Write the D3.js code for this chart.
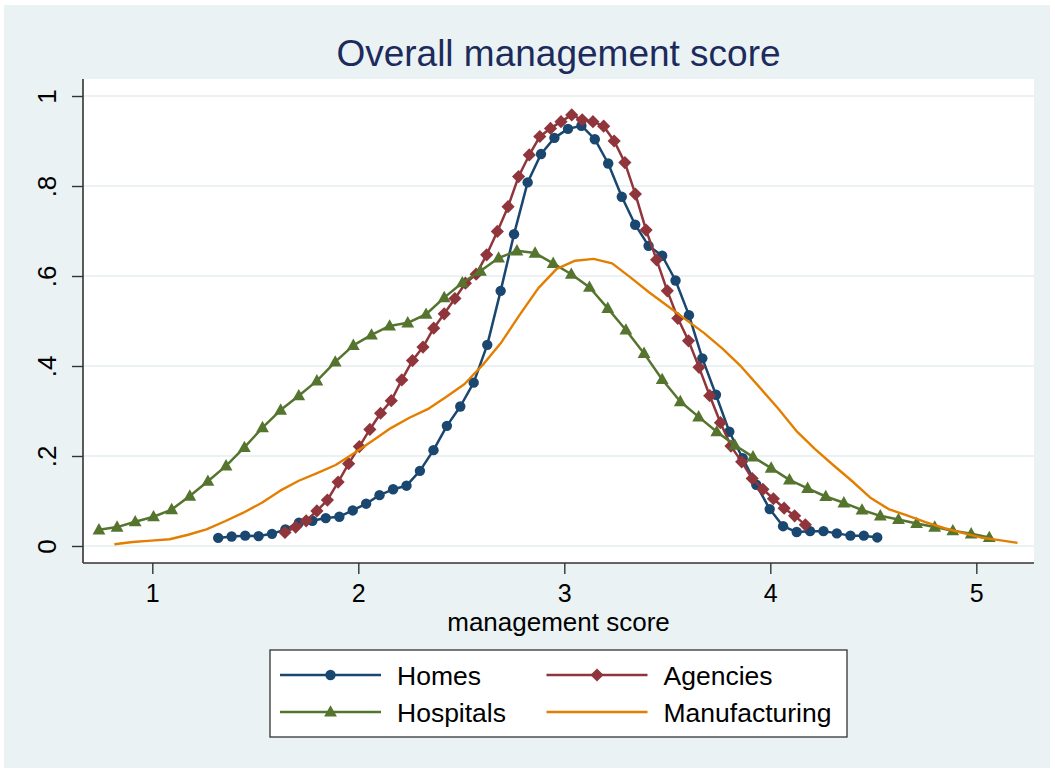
<!DOCTYPE html>
<html>
<head>
<meta charset="utf-8">
<script src="https://cdn.jsdelivr.net/npm/d3@7/dist/d3.min.js"></script>
<style>
  body { margin: 0; background: #fff; }
  svg text { font-family: "Liberation Sans", Arial, sans-serif; }
</style>
</head>
<body>
<div id="chart"></div>
<script>
// kdensity curves (50 points each)
const homesX = [1.320,1.385,1.451,1.516,1.581,1.646,1.712,1.777,1.842,1.908,
  1.973,2.038,2.103,2.169,2.234,2.299,2.365,2.430,2.495,2.560,
  2.626,2.691,2.756,2.822,2.887,2.952,3.018,3.083,3.148,3.213,
  3.279,3.344,3.409,3.475,3.540,3.605,3.670,3.736,3.801,3.866,
  3.932,3.997,4.062,4.128,4.193,4.258,4.323,4.389,4.454,4.519];
const homesY = [0.018,0.021,0.023,0.022,0.027,0.037,0.052,0.056,0.062,0.065,
  0.079,0.094,0.113,0.126,0.134,0.167,0.213,0.267,0.310,0.363,
  0.447,0.567,0.693,0.808,0.871,0.907,0.927,0.934,0.904,0.850,
  0.776,0.714,0.667,0.645,0.590,0.513,0.417,0.336,0.254,0.195,
  0.136,0.082,0.044,0.031,0.033,0.033,0.028,0.023,0.023,0.019];

const agenciesX = [1.644,1.696,1.747,1.799,1.850,1.902,1.953,2.005,2.056,2.108,
  2.160,2.211,2.263,2.314,2.366,2.417,2.469,2.520,2.572,2.623,
  2.675,2.727,2.778,2.830,2.881,2.933,2.984,3.036,3.087,3.139,
  3.191,3.242,3.294,3.345,3.397,3.448,3.500,3.551,3.603,3.654,
  3.706,3.758,3.809,3.861,3.912,3.964,4.015,4.067,4.118,4.170];
const agenciesY = [0.030,0.042,0.056,0.078,0.102,0.142,0.183,0.221,0.259,0.295,
  0.323,0.369,0.412,0.442,0.484,0.516,0.550,0.584,0.604,0.647,
  0.699,0.754,0.821,0.869,0.910,0.928,0.943,0.958,0.947,0.943,
  0.933,0.900,0.852,0.782,0.702,0.636,0.567,0.506,0.456,0.397,
  0.334,0.274,0.222,0.187,0.150,0.126,0.105,0.084,0.067,0.047];

const hospitalsX = [0.741,0.829,0.917,1.006,1.094,1.182,1.270,1.358,1.447,1.535,
  1.623,1.711,1.799,1.888,1.976,2.064,2.152,2.240,2.329,2.417,
  2.505,2.593,2.681,2.770,2.858,2.946,3.034,3.122,3.211,3.299,
  3.387,3.475,3.563,3.652,3.740,3.828,3.916,4.004,4.093,4.181,
  4.269,4.357,4.445,4.534,4.622,4.710,4.798,4.886,4.975,5.063];
const hospitalsY = [0.036,0.042,0.054,0.065,0.081,0.111,0.144,0.178,0.219,0.263,
  0.302,0.334,0.367,0.409,0.446,0.469,0.489,0.496,0.515,0.552,
  0.585,0.611,0.640,0.656,0.651,0.628,0.604,0.575,0.528,0.480,
  0.428,0.370,0.321,0.287,0.254,0.224,0.198,0.173,0.147,0.128,
  0.110,0.096,0.080,0.067,0.059,0.050,0.042,0.034,0.027,0.019];

const manufX = [0.816,0.905,0.995,1.084,1.174,1.263,1.353,1.442,1.532,1.621,
  1.711,1.800,1.890,1.979,2.069,2.158,2.248,2.337,2.426,2.516,
  2.605,2.695,2.784,2.874,2.963,3.053,3.142,3.232,3.321,3.411,
  3.500,3.590,3.679,3.769,3.858,3.947,4.037,4.126,4.216,4.305,
  4.395,4.484,4.574,4.663,4.753,4.842,4.932,5.021,5.111,5.200];
const manufY = [0.004,0.009,0.012,0.015,0.025,0.037,0.055,0.074,0.096,0.123,
  0.145,0.162,0.180,0.206,0.234,0.262,0.285,0.304,0.331,0.360,
  0.403,0.453,0.514,0.573,0.616,0.634,0.638,0.628,0.597,0.564,
  0.534,0.503,0.473,0.438,0.399,0.353,0.306,0.256,0.216,0.180,
  0.145,0.108,0.082,0.068,0.053,0.040,0.029,0.019,0.013,0.007];

const xTicks = [1, 2, 3, 4, 5];
const yTicks = [0, 0.2, 0.4, 0.6, 0.8, 1];

const series = [
  {name: "Homes", xs: homesX, ys: homesY, color: "#1a476f", marker: "circle"},
  {name: "Agencies", xs: agenciesX, ys: agenciesY, color: "#90353b", marker: "diamond"},
  {name: "Hospitals", xs: hospitalsX, ys: hospitalsY, color: "#55752f", marker: "triangle"},
  {name: "Manufacturing", xs: manufX, ys: manufY, color: "#e37e00", marker: null}
];

let width = 1055, height = 772;
let plot = {left: 83, right: 1034, top: 79, bottom: 563};

let svg = d3.select("#chart").append("svg")
  .attr("width", width)
  .attr("height", height);

// outer graph region
svg.append("rect")
  .attr("x", 4).attr("y", 5)
  .attr("width", 1046).attr("height", 763)
  .attr("fill", "#eaf2f3");

svg.append("rect")
  .attr("x", plot.left).attr("y", plot.top)
  .attr("width", plot.right - plot.left).attr("height", plot.bottom - plot.top)
  .attr("fill", "#fff");

let x = d3.scaleLinear().domain([0.6636, 5.280]).range([plot.left, plot.right]);
let y = d3.scaleLinear().domain([-0.0378, 1.0378]).range([plot.bottom, plot.top]);

// gridlines
svg.append("g")
  .selectAll("line")
  .data(yTicks)
  .enter().append("line")
  .attr("x1", plot.left).attr("x2", plot.right)
  .attr("y1", d => y(d)).attr("y2", d => y(d))
  .attr("stroke", "#eaf2f3")
  .attr("stroke-width", 2.2);

function markerPath(type) {
  if (type == "diamond") return "M0,-6.6L6.6,0L0,6.6L-6.6,0Z";
  if (type == "triangle") return "M0,-6.8L6.4,4.6L-6.4,4.6Z";
  return null;
}

let line = d3.line().x(d => x(d[0])).y(d => y(d[1]));

series.forEach(s => {
  let pts = s.xs.map((v, i) => [v, s.ys[i]]);
  let g = svg.append("g");
  g.append("path")
    .datum(pts)
    .attr("d", line)
    .attr("fill", "none")
    .attr("stroke", s.color)
    .attr("stroke-width", s.marker ? 2.5 : 2.4)
    .attr("stroke-linejoin", "round");

  if (s.marker == "circle") {
    g.selectAll("circle")
      .data(pts)
      .enter().append("circle")
      .attr("cx", d => x(d[0]))
      .attr("cy", d => y(d[1]))
      .attr("r", 5.2)
      .attr("fill", s.color);
  } else if (s.marker) {
    g.selectAll("path.mk")
      .data(pts)
      .enter().append("path")
      .attr("class", "mk")
      .attr("d", markerPath(s.marker))
      .attr("transform", d => "translate(" + x(d[0]) + "," + y(d[1]) + ")")
      .attr("fill", s.color);
  }
});

// axes
let xAxis = svg.append("g")
  .attr("transform", "translate(0," + plot.bottom + ")")
  .call(d3.axisBottom(x).tickValues(xTicks).tickFormat(d3.format("d")).tickSize(11).tickSizeOuter(0));
xAxis.select(".domain").attr("stroke", "#333").attr("stroke-width", 1.6)
  .attr("d", "M" + plot.left + ",0H" + plot.right);
xAxis.selectAll(".tick line").attr("stroke", "#333").attr("stroke-width", 1.4);
xAxis.selectAll(".tick text")
  .attr("y", 39).attr("dy", null)
  .attr("fill", "#000")
  .style("font-size", "25px");

let fmtY = d => d == 0 ? "0" : d == 1 ? "1" : d3.format(".1f")(d).replace(/^0/, "");

let yAxis = svg.append("g")
  .attr("transform", "translate(" + plot.left + ",0)")
  .call(d3.axisLeft(y).tickValues(yTicks).tickFormat(fmtY).tickSize(11).tickSizeOuter(0));
yAxis.select(".domain").attr("stroke", "#333").attr("stroke-width", 1.6)
  .attr("d", "M0," + plot.top + "V" + plot.bottom);
yAxis.selectAll(".tick line").attr("stroke", "#333").attr("stroke-width", 1.4);
yAxis.selectAll(".tick text")
  .attr("x", null).attr("dy", null)
  .attr("text-anchor", "middle")
  .attr("transform", "translate(-27,0) rotate(-90)")
  .attr("fill", "#000")
  .style("font-size", "26px");

let midX = (plot.left + plot.right) / 2;

svg.append("text")
  .attr("x", midX).attr("y", 631)
  .attr("text-anchor", "middle")
  .style("font-size", "26px")
  .text("management score");

svg.append("text")
  .attr("x", midX).attr("y", 66)
  .attr("text-anchor", "middle")
  .attr("fill", "#1c2a5c")
  .style("font-size", "37px")
  .text("Overall management score");

// legend
let legend = svg.append("g");
legend.append("rect")
  .attr("x", 270).attr("y", 650)
  .attr("width", 577).attr("height", 87)
  .attr("fill", "#fff")
  .attr("stroke", "#333")
  .attr("stroke-width", 1.3);

let legendPos = [
  {x: 280, y: 675}, {x: 546.5, y: 675},
  {x: 280, y: 712}, {x: 546.5, y: 712}
];

series.forEach((s, i) => {
  let p = legendPos[i];
  legend.append("line")
    .attr("x1", p.x).attr("x2", p.x + 101)
    .attr("y1", p.y).attr("y2", p.y)
    .attr("stroke", s.color)
    .attr("stroke-width", 2.5);
  if (s.marker == "circle") {
    legend.append("circle")
      .attr("cx", p.x + 50.5).attr("cy", p.y)
      .attr("r", 5.2).attr("fill", s.color);
  } else if (s.marker) {
    legend.append("path")
      .attr("d", markerPath(s.marker))
      .attr("transform", "translate(" + (p.x + 50.5) + "," + p.y + ")")
      .attr("fill", s.color);
  }
  legend.append("text")
    .attr("x", p.x + 117).attr("y", p.y + 9.5)
    .style("font-size", "26.5px")
    .text(s.name);
});
</script>
</body>
</html>
